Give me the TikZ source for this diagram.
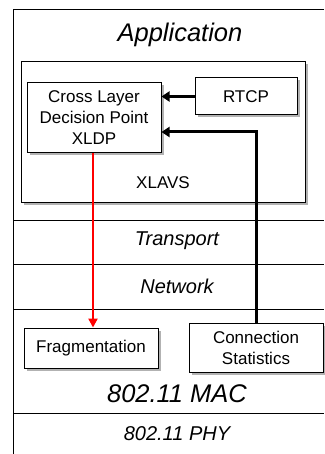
\documentclass[tikz,border=0pt]{standalone}
\usepackage{fontspec}
\setmainfont{Liberation Sans}
\usetikzlibrary{arrows.meta,positioning,shadows}

\begin{document}
\begin{tikzpicture}[x=1pt, y=-1pt,
    box/.style={draw, rectangle, fill=white, align=center, line width=1pt,
                font=\fontsize{17}{21}\selectfont,
                drop shadow={shadow xshift=2.5pt, shadow yshift=-2.5pt, fill=gray!60, opacity=1}},
    layer/.style={font=\fontsize{20}{24}\selectfont\itshape},
    biglayer/.style={font=\fontsize{25.5}{30}\selectfont\itshape},
    arrow/.style={-{Triangle[length=8pt,width=10pt]}, line width=3pt},
    redarrow/.style={-{Triangle[length=9pt,width=9pt]}, line width=2.5pt, red}
]
\useasboundingbox (0,0) rectangle (324,454);

% stack frame and layer borders
\draw[line width=1pt] (324,10) -- (13,10) -- (13,454);
\foreach \y in {220,264,309,413}
  \draw[line width=1pt] (13,\y) -- (324,\y);

% layer names
\node[biglayer] (app) at (180,35) {Application};
\node[layer] (transport) at (177,241) {Transport};
\node[layer] (network) at (177,286) {Network};
\node[biglayer] (mac) at (177,394) {802.11 MAC};
\node[layer] (phy) at (177,434) {802.11 PHY};

% XLAVS block
\node[box, minimum width=284pt, minimum height=140pt] (xlavs) at (163,132) {};
\node[font=\fontsize{17}{21}\selectfont] (xlavslabel) at (163,183) {XLAVS};

\node[box, minimum width=134pt, minimum height=70pt] (xldp) at (94,118)
  {Cross Layer\\Decision Point\\XLDP};
\node[box, minimum width=102pt, minimum height=37pt] (rtcp) at (246,96.5) {RTCP};

% MAC blocks
\node[box, minimum width=134pt, minimum height=40pt] (frag) at (91,348) {Fragmentation};
\node[box, minimum width=134pt, minimum height=49pt] (stats) at (256,347.5)
  {Connection\\Statistics};

\draw[arrow] (rtcp.west) -- (rtcp.west -| xldp.east);
\draw[arrow] (stats.north) |- ([yshift=-14pt]xldp.east);
\draw[redarrow] ([xshift=-1pt]xldp.south) -- ([xshift=-1pt]xldp.south |- frag.north);
\end{tikzpicture}
\end{document}
